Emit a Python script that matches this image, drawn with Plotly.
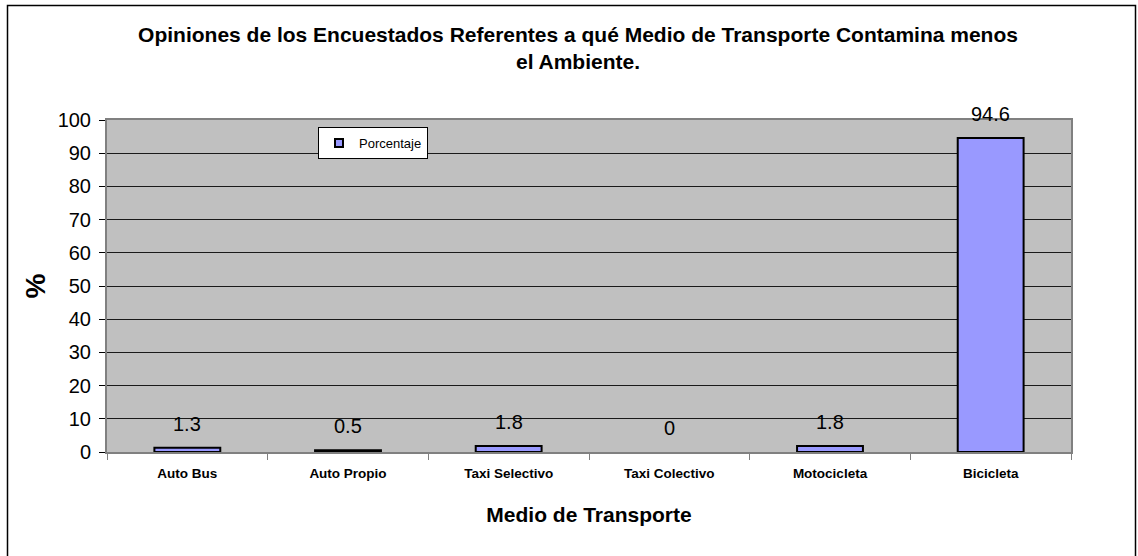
import plotly.graph_objects as go

# Survey results: which transport mode pollutes the environment least
categorias = ["Auto Bus", "Auto Propio", "Taxi Selectivo", "Taxi Colectivo", "Motocicleta", "Bicicleta"]
porcentaje = [1.3, 0.5, 1.8, 0, 1.8, 94.6]
ticks_y = [0, 10, 20, 30, 40, 50, 60, 70, 80, 90, 100]

FONT = "Arial, Liberation Sans, sans-serif"
BAR_FILL = "#9999FF"

fig = go.Figure()
fig.add_trace(go.Bar(
    x=categorias,
    y=porcentaje,
    name="Porcentaje",
    marker=dict(color=BAR_FILL,
                line=dict(color="#000000",
                          width=[2 if v > 0 else 0 for v in porcentaje])),
    width=0.41,
    showlegend=False,
))
# legend entry with a small square key
fig.add_trace(go.Scatter(
    x=[None], y=[None], mode="markers", name="Porcentaje",
    marker=dict(symbol="square", size=8, color=BAR_FILL,
                line=dict(color="#000000", width=2)),
))

# value labels above each bar
for cat, val in zip(categorias, porcentaje):
    fig.add_annotation(
        x=cat, y=val, text=f"{val:g}", showarrow=False,
        yanchor="bottom", yshift=11,
        font=dict(family=FONT, size=20, color="#000000"),
    )

# outer chart frame
fig.add_shape(
    type="rect", xref="paper", yref="paper",
    x0=(7.5 - 107) / 964, x1=(1135.5 - 107) / 964,
    y0=-0.5, y1=(452 - 5.5) / 332,
    line=dict(color="#000000", width=1.5), fillcolor="rgba(0,0,0,0)",
    layer="below",
)

fig.update_layout(
    width=1138, height=556,
    margin=dict(l=107, r=67, t=120, b=104),
    paper_bgcolor="#FFFFFF",
    plot_bgcolor="#C0C0C0",
    font=dict(family=FONT, color="#000000"),
    title=dict(
        text="Opiniones de los Encuestados Referentes a qué Medio de Transporte Contamina menos<br>el Ambiente.",
        x=578 / 1138, xanchor="center", xref="container",
        y=1 - 42 / 556, yanchor="top", yref="container",
        font=dict(family=FONT, size=21, color="#000000", weight="bold"),
    ),
    showlegend=True,
    legend=dict(
        x=(318 - 107) / 964, y=(452 - 127) / 332,
        xanchor="left", yanchor="top",
        bgcolor="#FFFFFF", bordercolor="#000000", borderwidth=1,
        font=dict(family=FONT, size=13, color="#000000"),
        itemwidth=30,
    ),
    bargap=0.59,
)

fig.update_xaxes(
    title=dict(text="Medio de Transporte", standoff=27,
               font=dict(family=FONT, size=21, weight="bold")),
    tickfont=dict(family=FONT, size=13.5, weight="bold"),
    ticklabelstandoff=8,
    automargin=False,
    showline=True, linecolor="#808080", linewidth=2, mirror=True,
    ticks="outside", ticklen=6, tickcolor="#808080", tickson="boundaries",
    showgrid=False, zeroline=False,
)

fig.update_yaxes(
    title=dict(text="%", standoff=4,
               font=dict(family=FONT, size=28, weight="bold")),
    range=[0, 100],
    tickvals=ticks_y,
    tickfont=dict(family=FONT, size=20),
    ticklabelstandoff=4,
    automargin=False,
    showline=True, linecolor="#808080", linewidth=2, mirror=True,
    ticks="outside", ticklen=6, tickcolor="#000000",
    showgrid=True, gridcolor="#1a1a1a", gridwidth=1,
    zeroline=False,
)

fig.write_html("out.html")
